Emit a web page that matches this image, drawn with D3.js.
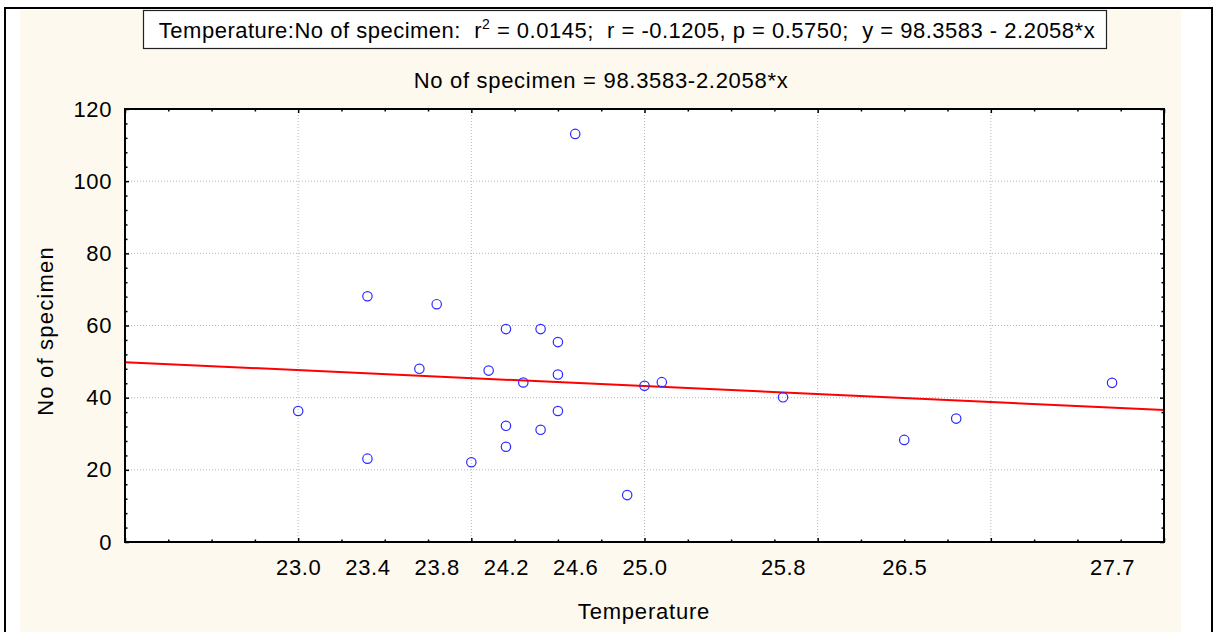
<!DOCTYPE html>
<html>
<head>
<meta charset="utf-8">
<script src="https://cdn.jsdelivr.net/npm/d3@7"></script>
<style>
  body { margin: 0; background: #ffffff; }
  svg text { font-family: "Liberation Sans", Arial, sans-serif; fill: #000; white-space: pre; }
</style>
</head>
<body>
<div id="chart"></div>
<script>
const temperature = [23.0, 23.4, 23.4, 23.8, 23.7, 24.0, 24.1, 24.2, 24.2, 24.2, 24.3, 24.4,
  24.4, 24.5, 24.5, 24.5, 24.6, 24.9, 25.0, 25.1, 25.8, 26.5, 26.8, 27.7];
const specimens = [36.3, 68.1, 23.1, 65.9, 48.0, 22.1, 47.5, 59.0, 32.2, 26.4, 44.2, 59.0,
  31.1, 55.4, 46.4, 36.3, 113.1, 13.0, 43.3, 44.3, 40.1, 28.3, 34.2, 44.1];
const xTickLabels = [23.0, 23.4, 23.8, 24.2, 24.6, 25.0, 25.8, 26.5, 27.7];
const yTickLabels = [0, 20, 40, 60, 80, 100, 120];
const fitIntercept = 98.3583;
const fitSlope = -2.2058;

const width = 1218, height = 632;
const margin = { top: 109, right: 54, bottom: 90, left: 125 };
const plotW = width - margin.left - margin.right;
const plotH = height - margin.top - margin.bottom;

const svg = d3.select('#chart').append('svg')
  .attr('width', width)
  .attr('height', height);

// outer frame and beige panel
svg.append('rect').attr('x', 5).attr('y', 8).attr('width', 1207).attr('height', 640)
  .attr('fill', '#fff').attr('stroke', '#000').attr('stroke-width', 2);
svg.append('rect').attr('x', 20).attr('y', 10).attr('width', 1161).attr('height', 630)
  .attr('fill', '#fdf9ee');

const g = svg.append('g').attr('transform', `translate(${margin.left},${margin.top})`);

const x = d3.scaleLinear().domain([22, 28]).range([0, plotW]);
const y = d3.scaleLinear().domain([0, 120]).range([plotH, 0]);

g.append('rect').attr('width', plotW).attr('height', plotH).attr('fill', '#fff');

// dotted grid
g.append('g')
  .selectAll('line')
  .data(d3.range(23, 28))
  .enter().append('line')
  .attr('x1', d => x(d)).attr('x2', d => x(d))
  .attr('y1', 0).attr('y2', plotH)
  .attr('stroke', '#b8b8b8').attr('stroke-dasharray', '1,2');
g.append('g')
  .selectAll('line')
  .data(yTickLabels.slice(1, -1))
  .enter().append('line')
  .attr('y1', d => y(d)).attr('y2', d => y(d))
  .attr('x1', 0).attr('x2', plotW)
  .attr('stroke', '#b8b8b8').attr('stroke-dasharray', '1,2');

// inward ticks on all four sides
const xMinor = d3.range(22, 28.01, 0.25).filter(v => Math.abs(v - Math.round(v)) > 0.01);
const xMajor = d3.range(22, 29);
const yMinor = d3.range(0, 120.01, 4).filter(v => v % 20 !== 0);

function ticks(axisFn, scale, values, size, tx, ty) {
  const a = g.append('g')
    .attr('transform', `translate(${tx},${ty})`)
    .call(axisFn(scale).tickValues(values).tickSize(size).tickFormat(''));
  a.select('.domain').remove();
  a.selectAll('line').attr('stroke', '#000').attr('stroke-width', 1.5);
}
ticks(d3.axisBottom, x, xMajor, -4, 0, plotH);
ticks(d3.axisBottom, x, xMinor, -2.5, 0, plotH);
ticks(d3.axisTop, x, xMajor, -4, 0, 0);
ticks(d3.axisTop, x, xMinor, -2.5, 0, 0);
ticks(d3.axisLeft, y, yTickLabels, -4, 0, 0);
ticks(d3.axisLeft, y, yMinor, -2.5, 0, 0);
ticks(d3.axisRight, y, yTickLabels, -4, plotW, 0);
ticks(d3.axisRight, y, yMinor, -2.5, plotW, 0);

// tick labels
const xLab = g.append('g')
  .attr('transform', `translate(0,${plotH})`)
  .call(d3.axisBottom(x).tickValues(xTickLabels).tickSize(0).tickPadding(17).tickFormat(d3.format('.1f')));
xLab.select('.domain').remove();
xLab.selectAll('text').attr('font-size', 22).attr('letter-spacing', 0.6)
  .style('font-family', '"Liberation Sans", Arial, sans-serif');

const yLab = g.append('g')
  .call(d3.axisLeft(y).tickValues(yTickLabels).tickSize(0).tickPadding(13));
yLab.select('.domain').remove();
yLab.selectAll('text').attr('font-size', 22).attr('letter-spacing', 0.6)
  .style('font-family', '"Liberation Sans", Arial, sans-serif');

// regression line
const fit = d3.line().x(d => x(d)).y(d => y(fitIntercept + fitSlope * d));
g.append('path')
  .datum([22, 28])
  .attr('fill', 'none')
  .attr('stroke', '#ff0000')
  .attr('stroke-width', 2)
  .attr('d', fit);

// points
g.append('g')
  .selectAll('circle')
  .data(temperature)
  .enter().append('circle')
  .attr('cx', d => x(d))
  .attr('cy', (d, i) => y(specimens[i]))
  .attr('r', 4.7)
  .attr('fill', 'none')
  .attr('stroke', '#2b2bff')
  .attr('stroke-width', 1.2);

// plot border
g.append('rect').attr('width', plotW).attr('height', plotH)
  .attr('fill', 'none').attr('stroke', '#000').attr('stroke-width', 2);

// titles
svg.append('rect').attr('x', 143.5).attr('y', 10.5).attr('width', 963).attr('height', 38)
  .attr('fill', '#fff').attr('stroke', '#222').attr('stroke-width', 1.2);
const title = svg.append('text')
  .attr('x', 627).attr('y', 38)
  .attr('text-anchor', 'middle')
  .attr('font-size', 22)
  .attr('letter-spacing', 0.5);
title.append('tspan').text('Temperature:No of specimen:  r');
title.append('tspan').attr('font-size', 14).attr('dy', -9).text('2');
title.append('tspan').attr('dy', 9).text(' = 0.0145;  r = -0.1205, p = 0.5750;  y = 98.3583 - 2.2058*x');

svg.append('text')
  .attr('x', 601).attr('y', 88)
  .attr('text-anchor', 'middle')
  .attr('font-size', 22)
  .attr('letter-spacing', 0.7)
  .text('No of specimen = 98.3583-2.2058*x');

svg.append('text')
  .attr('x', 644).attr('y', 619)
  .attr('text-anchor', 'middle')
  .attr('font-size', 22)
  .attr('letter-spacing', 0.8)
  .text('Temperature');

svg.append('text')
  .attr('transform', 'translate(53,331) rotate(-90)')
  .attr('text-anchor', 'middle')
  .attr('font-size', 22)
  .attr('letter-spacing', 1.2)
  .text('No of specimen');
</script>
</body>
</html>
